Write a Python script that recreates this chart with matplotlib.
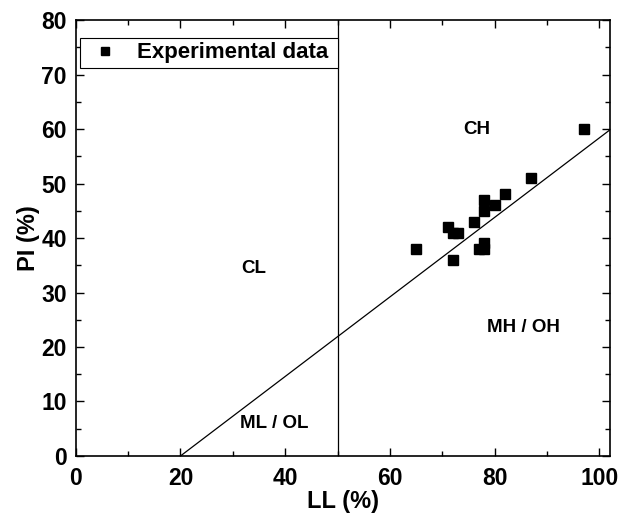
import matplotlib
matplotlib.use("Agg")
import matplotlib.pyplot as plt
from matplotlib.ticker import MultipleLocator

ll = [65, 71, 72, 73, 72, 76, 78, 78, 80, 82, 87, 77, 78, 78, 97]
pi = [38, 42, 41, 41, 36, 43, 47, 45, 46, 48, 51, 38, 38, 39, 60]

aline_ll = [20, 102]
aline_pi = [0, 0.73 * (102 - 20)]
zone_labels = ["CH", "CL", "MH / OH", "ML / OL"]
zone_pos = [(76.5, 60), (34, 34.5), (85.5, 23.5), (38, 6)]

plt.rcParams['font.family'] = ['Liberation Sans', 'DejaVu Sans']
plt.rcParams['font.weight'] = 'bold'

fig = plt.figure(figsize=(6.18, 5.15), dpi=100)
ax = fig.add_axes([0.1225, 0.1146, 0.987 - 0.1225, 0.961 - 0.1146])

ax.plot(aline_ll, aline_pi, color='black', lw=0.9)
ax.axvline(50, color='black', lw=0.9)
ax.plot(ll, pi, 's', color='black', markersize=6.8, linestyle='none', label='Experimental data')

for t, (x, y) in zip(zone_labels, zone_pos):
    ax.text(x, y, t, ha='center', va='center', fontsize=13.5, fontweight='bold')

ax.set_xlim(0, 102)
ax.set_ylim(0, 80)
ax.xaxis.set_major_locator(MultipleLocator(20))
ax.xaxis.set_minor_locator(MultipleLocator(10))
ax.yaxis.set_major_locator(MultipleLocator(10))
ax.yaxis.set_minor_locator(MultipleLocator(5))
ax.tick_params(which='both', direction='in', top=True, right=True, labelsize=16.5, width=1)
ax.tick_params(which='major', length=6)
ax.tick_params(which='minor', length=3.5)
ax.tick_params(axis='x', which='major', pad=8)
ax.tick_params(axis='y', which='major', pad=6.5)
for lab in ax.get_xticklabels() + ax.get_yticklabels():
    lab.set_fontweight('bold')
for s in ax.spines.values():
    s.set_linewidth(1.2)

ax.set_xlabel('LL (%)', fontsize=17, fontweight='bold', labelpad=0)
ax.set_ylabel('PI (%)', fontsize=17, fontweight='bold', labelpad=1)

leg = ax.legend(loc='upper left', bbox_to_anchor=(0.008, 0.86, 0.483, 0.1), mode='expand',
                borderaxespad=0, fancybox=False, edgecolor='black', framealpha=1,
                prop={'size': 16, 'weight': 'bold'}, markerscale=0.85, handlelength=1.8,
                handletextpad=0.55, borderpad=0.22)
leg.get_frame().set_linewidth(0.8)

fig.savefig('out.png', dpi=100)
